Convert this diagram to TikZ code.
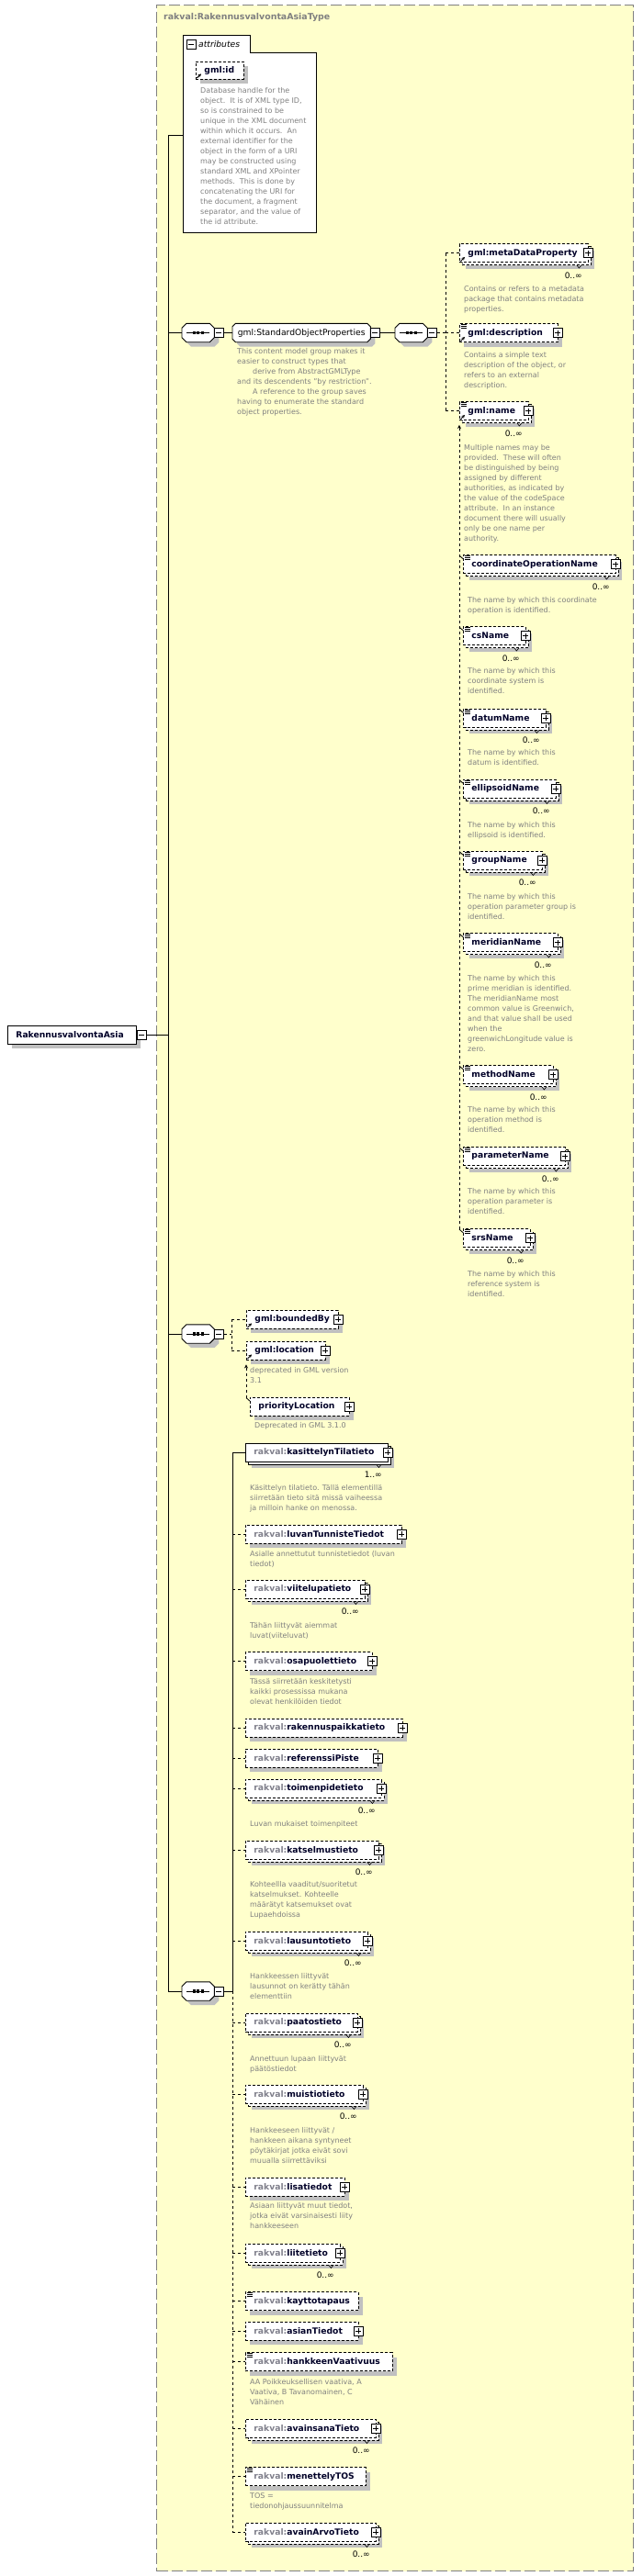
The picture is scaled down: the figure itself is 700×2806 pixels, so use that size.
\documentclass[tikz,border=0pt]{standalone}
\usepackage{fontspec}
\setmainfont{DejaVu Sans}
\usetikzlibrary{shadows,arrows.meta}
\definecolor{bgyel}{RGB}{255,255,204}
\definecolor{bordgray}{RGB}{128,128,128}
\definecolor{shadgray}{RGB}{192,192,192}
\definecolor{dtxt}{RGB}{128,128,128}
\definecolor{ntxt}{RGB}{0,0,40}
\definecolor{pfx}{RGB}{128,128,140}
\newcommand{\elfont}{\fontsize{9.2}{11}\selectfont\bfseries}
\newcommand{\dfont}{\fontsize{8}{11}\selectfont}
\newcommand{\rk}[1]{\textcolor{pfx}{rakval:}#1}
\newcommand{\xEL}[6]{\node[elbox,#5,text width=#3pt] (#1) at (#2,#4) {\hspace*{9pt}\mbox{#6}};}
\newcommand{\xPL}[1]{\node[pbox] (#1P) at ([xshift=-1pt]#1.east) {};}
\newcommand{\xRF}[1]{\draw[line width=1pt,-{Stealth[length=3.5pt,width=3.5pt]}] ([xshift=1.5pt,yshift=1.5pt]#1.south west) -- ++(4.5pt,4.5pt);}
\newcommand{\xSM}[1]{\draw[line width=0.6pt] ([xshift=2pt,yshift=-1.5pt]#1.north west) -- ++(6pt,0pt) ([xshift=2pt,yshift=-3.5pt]#1.north west) -- ++(6pt,0pt) ([xshift=2pt,yshift=-5.5pt]#1.north west) -- ++(6pt,0pt);}
\newcommand{\xOC}[2]{\draw[line width=0.6pt] ([xshift=-13pt,yshift=-3pt]#1.south east) -- ++(2.5pt,-3pt) -- ++(2.5pt,3pt); \node[occ] (#1O) at ([xshift=-7pt,yshift=-14pt]#1.south east) {#2};}
\newcommand{\xTK}[1]{\draw[line width=0.8pt] ([xshift=-4pt,yshift=-1pt]#1.north west) -- ([xshift=0.5pt,yshift=-5pt]#1.north west);}
\newcommand{\xDS}[4]{\node[dsc] (#1) at (#2,#3-4) {#4};}
\newcommand{\xOCT}[2]{\draw[line width=0.9pt, fill=white, sshadow] ([xshift=#2]#1.north west) -- ([xshift=-#2]#1.north east) -- ([yshift=-#2]#1.north east) -- ([yshift=#2]#1.south east) -- ([xshift=-#2]#1.south east) -- ([xshift=#2]#1.south west) -- ([yshift=#2]#1.south west) -- ([yshift=-#2]#1.north west) -- cycle;}
\newcommand{\xSQ}[3]{%
 \node[seqnode] (#1) at (#2,#3) {};
 \xOCT{#1}{5pt}
 \draw[line width=0.9pt] ([xshift=5pt]#1.west) -- ([xshift=-5pt]#1.east);
 \foreach \dx in {-4.5,0,4.5} \fill ([xshift=\dx pt]#1.center) +(-1.7pt,-1.7pt) rectangle +(1.7pt,1.7pt);
 \node[mbox] (#1m) at ([xshift=5pt]#1.east) {};}
\tikzset{
 conn/.style={line width=0.9pt, black},
 dconn/.style={conn, dash pattern=on 3pt off 3pt},
 elbox/.style={draw, line width=0.9pt, fill=white, minimum height=20pt, inner xsep=0pt, inner ysep=0pt, anchor=west, font=\elfont, text=ntxt, align=left},
 optb/.style={dash pattern=on 3pt off 2pt},
 sshadow/.style={drop shadow={shadow xshift=5pt, shadow yshift=-5pt, fill=shadgray, opacity=1}},
 multib/.style={drop shadow={shadow xshift=7pt, shadow yshift=-7pt, fill=shadgray, opacity=1}, copy shadow={shadow xshift=3pt, shadow yshift=-3pt, draw=black, fill=white}},
 pbox/.style={draw, solid, fill=white, line width=0.7pt, minimum size=10pt, inner sep=0pt,
   path picture={\draw[line width=0.7pt] ([xshift=2pt]path picture bounding box.west) -- ([xshift=-2pt]path picture bounding box.east) ([yshift=-2pt]path picture bounding box.north) -- ([yshift=2pt]path picture bounding box.south);}},
 mbox/.style={draw, solid, fill=white, line width=0.7pt, minimum size=10pt, inner sep=0pt,
   path picture={\draw[line width=0.7pt] ([xshift=2pt]path picture bounding box.west) -- ([xshift=-2pt]path picture bounding box.east);}},
 seqnode/.style={rectangle, draw=none, minimum width=35pt, minimum height=20pt, inner sep=0pt, anchor=west},
 grpnode/.style={rectangle, draw=none, minimum width=150pt, minimum height=20pt, inner sep=0pt, anchor=west, font=\fontsize{9.2}{11}\selectfont},
 dsc/.style={font=\dfont, text=dtxt, align=left, inner sep=0pt, anchor=north west},
 occ/.style={font=\fontsize{9}{10}\selectfont, text=black, inner sep=0pt, anchor=east},
}
\begin{document}
\begin{tikzpicture}[x=1pt,y=-1pt]
\useasboundingbox (0,0) rectangle (700,2806);
\fill[white] (0,0) rectangle (700,2806);
% type box
\node[draw=bordgray, fill=bgyel, dash pattern=on 12pt off 4pt, line width=1pt, minimum width=519pt, minimum height=2795pt, anchor=north west, inner sep=0pt] (typebox) at (170,5) {};
\node[anchor=west, font=\fontsize{9.4}{11}\selectfont\bfseries, text=bordgray, inner sep=0pt] (title) at (178,19) {rakval:RakennusvalvontaAsiaType};
% attributes
\draw[line width=0.9pt, fill=white] (199,38) -- (272,38) -- (272,57) -- (344,57) -- (344,253) -- (199,253) -- cycle;
\coordinate (attrW) at (199,147);
\node[mbox] (attrm) at (208,48.5) {};
\node[anchor=west, font=\fontsize{9.2}{11}\selectfont\itshape, inner sep=0pt] (attrlbl) at (216,48) {attributes};
\xEL{gmlid}{213}{52}{76.5}{optb,sshadow,minimum height=19pt}{gml:id}\xRF{gmlid}
\xDS{gmlidD}{218}{99}{Database handle for the\\object.\ \ It is of XML type ID,\\so is constrained to be\\unique in the XML document\\within which it occurs.\ \ An\\external identifier for the\\object in the form of a URI\\may be constructed using\\standard XML and XPointer\\methods.\ \ This is done by\\concatenating the URI for\\the document, a fragment\\separator, and the value of\\the id attribute.}
% main element
\xEL{rva}{8}{140}{1127}{sshadow}{RakennusvalvontaAsia}
\node[mbox] (rvam) at ([xshift=5pt]rva.east) {};
\coordinate (rvaJ) at (183,1127);
\draw[conn] (rvam.east) -- (rvaJ);
% main bus
\coordinate (mbT) at (183,147);
\coordinate (jA) at (183,362.5);
\coordinate (jC) at (183,1453);
\coordinate (mbB) at (183,2169);
\draw[conn] (mbT) -- (mbB);
\draw[conn] (mbT) -- (attrW);
% ---------- group 1
\xSQ{seqA}{198}{362.5}
\draw[conn] (jA) -- (seqA.west);
\node[grpnode] (sopbg) at (253,362.5) {};
\xOCT{sopbg}{3.5pt}
\node[grpnode] (sop) at (253,362.5) {gml:StandardObjectProperties};
\node[mbox] (sopm) at ([xshift=5pt]sop.east) {};
\draw[conn] (seqAm.east) -- (sop.west);
\xDS{sopD}{258}{383}{This content model group makes it\\easier to construct types that\\\hspace*{17pt}derive from AbstractGMLType\\and its descendents \char34 by restriction\char34.\\\hspace*{17pt}A reference to the group saves\\having to enumerate the standard\\object properties.}
\xSQ{seqB}{430}{362.5}
\draw[conn] (sopm.east) -- (seqB.west);
\coordinate (busB) at (485,362.5);
\coordinate (busBt) at (485,275.5);
\coordinate (busBb) at (485,447.5);
\draw[dconn] (seqBm.east) -- (busB);
\draw[dconn] (busBt) -- (busBb);
\xEL{mdp}{500}{140}{275.5}{optb,multib}{gml:metaDataProperty}\xRF{mdp}\xPL{mdp}\xOC{mdp}{0..∞}
\xDS{mdpD}{505}{315}{Contains or refers to a metadata\\package that contains metadata\\properties.}
\xEL{descr}{500}{107}{362.5}{optb,sshadow}{gml:description}\xRF{descr}\xSM{descr}\xPL{descr}
\xDS{descrD}{505}{387}{Contains a simple text\\description of the object, or\\refers to an external\\description.}
\xEL{gname}{500}{75}{447.5}{optb,multib}{gml:name}\xRF{gname}\xSM{gname}\xPL{gname}\xOC{gname}{0..∞}
\xDS{gnameD}{505}{488}{Multiple names may be\\provided.\ \ These will often\\be distinguished by being\\assigned by different\\authorities, as indicated by\\the value of the codeSpace\\attribute.\ \ In an instance\\document there will usually\\only be one name per\\authority.}
\draw[dconn] (busBt) -- (mdp.west);
\draw[dconn] (busB) -- (descr.west);
\draw[dconn] (busBb) -- (gname.west);
% substitution members
\xEL{cop}{504}{166}{614.5}{optb,multib}{coordinateOperationName}\xSM{cop}\xPL{cop}\xOC{cop}{0..∞}
\xDS{copD}{509}{654}{The name by which this coordinate\\operation is identified.}
\xEL{csn}{504}{68}{692.5}{optb,multib}{csName}\xSM{csn}\xPL{csn}\xOC{csn}{0..∞}
\xDS{csnD}{509}{731}{The name by which this\\coordinate system is\\identified.}
\xEL{dtn}{504}{90}{782}{optb,multib}{datumName}\xSM{dtn}\xPL{dtn}\xOC{dtn}{0..∞}
\xDS{dtnD}{509}{820}{The name by which this\\datum is identified.}
\xEL{eln}{504}{101}{859}{optb,multib}{ellipsoidName}\xSM{eln}\xPL{eln}\xOC{eln}{0..∞}
\xDS{elnD}{509}{899}{The name by which this\\ellipsoid is identified.}
\xEL{grn}{504}{86}{937}{optb,multib}{groupName}\xSM{grn}\xPL{grn}\xOC{grn}{0..∞}
\xDS{grnD}{509}{977}{The name by which this\\operation parameter group is\\identified.}
\xEL{mrn}{504}{103}{1026.5}{optb,multib}{meridianName}\xSM{mrn}\xPL{mrn}\xOC{mrn}{0..∞}
\xDS{mrnD}{509}{1066}{The name by which this\\prime meridian is identified.\\The meridianName most\\common value is Greenwich,\\and that value shall be used\\when the\\greenwichLongitude value is\\zero.}
\xEL{mtn}{504}{98}{1170.5}{optb,multib}{methodName}\xSM{mtn}\xPL{mtn}\xOC{mtn}{0..∞}
\xDS{mtnD}{509}{1209}{The name by which this\\operation method is\\identified.}
\xEL{prn}{504}{111}{1259.5}{optb,multib}{parameterName}\xSM{prn}\xPL{prn}\xOC{prn}{0..∞}
\xDS{prnD}{509}{1298}{The name by which this\\operation parameter is\\identified.}
\xEL{srs}{504}{73}{1348.5}{optb,multib}{srsName}\xSM{srs}\xPL{srs}\xOC{srs}{0..∞}
\xDS{srsD}{509}{1388}{The name by which this\\reference system is\\identified.}
\draw[dconn,-{Stealth[length=4pt,width=4pt]}] ([xshift=-4pt,yshift=-1pt]srs.north west) -- ([yshift=-5pt]gname.south west);
\xTK{cop}\xTK{csn}\xTK{dtn}\xTK{eln}\xTK{grn}\xTK{mrn}\xTK{mtn}\xTK{prn}\xTK{srs}
% ---------- group 2
\xSQ{seqC}{198}{1453}
\draw[conn] (jC) -- (seqC.west);
\coordinate (busC) at (252,1453);
\coordinate (busCt) at (252,1437);
\coordinate (busCb) at (252,1471);
\draw[dconn] (seqCm.east) -- (busC);
\draw[dconn] (busCt) -- (busCb);
\xEL{bnd}{268}{100}{1437}{optb,sshadow}{gml:boundedBy}\xRF{bnd}\xPL{bnd}
\xEL{loc}{268}{86}{1471}{optb,sshadow}{gml:location}\xRF{loc}\xPL{loc}
\xDS{locD}{272}{1493}{deprecated in GML version\\3.1}
\draw[dconn] (busCt) -- (bnd.west);
\draw[dconn] (busCb) -- (loc.west);
\xEL{prio}{272}{108}{1532}{optb,sshadow}{priorityLocation}\xPL{prio}
\xDS{prioD}{277}{1553}{Deprecated in GML 3.1.0}
\draw[dconn,-{Stealth[length=4pt,width=4pt]}] ([xshift=-4pt,yshift=-1pt]prio.north west) -- ([yshift=-5pt]loc.south west);
\xTK{prio}
% ---------- group 3
\xSQ{seqD}{198}{2169}
\draw[conn] (mbB) -- (seqD.west);
\coordinate (busD) at (253,2169);
\coordinate (busDt) at (253,1582);
\coordinate (busDb) at (253,2758);
\draw[conn] (seqDm.east) -- (busD);
\draw[conn] (busDt) -- (busD);
\draw[dconn] (busD) -- (busDb);
\xEL{kas}{267}{155}{1582}{multib}{\rk{kasittelynTilatieto}}\xPL{kas}\xOC{kas}{1..∞}
\xDS{kasD}{272}{1621}{Käsittelyn tilatieto. Tällä elementillä\\siirretään tieto sitä missä vaiheessa\\ja milloin hanke on menossa.}
\draw[conn] (busDt) -- (kas.west);
\xEL{lvt}{267}{170}{1671}{optb,sshadow}{\rk{luvanTunnisteTiedot}}\xPL{lvt}
\xDS{lvtD}{272}{1693}{Asialle annettutut tunnistetiedot (luvan\\tiedot)}
\xEL{vii}{267}{130}{1731}{optb,multib}{\rk{viitelupatieto}}\xPL{vii}\xOC{vii}{0..∞}
\xDS{viiD}{272}{1771}{Tähän liittyvät aiemmat\\luvat(viiteluvat)}
\xEL{osa}{267}{138}{1809.5}{optb,sshadow}{\rk{osapuolettieto}}\xPL{osa}
\xDS{osaD}{272}{1832}{Tässä siirretään keskitetysti\\kaikki prosessissa mukana\\olevat henkilöiden tiedot}
\xEL{rpk}{267}{171}{1882}{optb,sshadow}{\rk{rakennuspaikkatieto}}\xPL{rpk}
\xEL{ref}{267}{144}{1915}{optb,sshadow}{\rk{referenssiPiste}}\xPL{ref}
\xEL{toi}{267}{148}{1948}{optb,multib}{\rk{toimenpidetieto}}\xPL{toi}\xOC{toi}{0..∞}
\xDS{toiD}{272}{1987}{Luvan mukaiset toimenpiteet}
\xEL{kat}{267}{145}{2015}{optb,multib}{\rk{katselmustieto}}\xPL{kat}\xOC{kat}{0..∞}
\xDS{katD}{272}{2053}{Kohteellla vaaditut/suoritetut\\katselmukset. Kohteelle\\määrätyt katsemukset ovat\\Lupaehdoissa}
\xEL{lau}{267}{133}{2114}{optb,multib}{\rk{lausuntotieto}}\xPL{lau}\xOC{lau}{0..∞}
\xDS{lauD}{272}{2153}{Hankkeessen liittyvät\\lausunnot on kerätty tähän\\elementtiin}
\xEL{paa}{267}{122}{2203}{optb,multib}{\rk{paatostieto}}\xPL{paa}\xOC{paa}{0..∞}
\xDS{paaD}{272}{2243}{Annettuun lupaan liittyvät\\päätöstiedot}
\xEL{mui}{267}{128}{2281}{optb,multib}{\rk{muistiotieto}}\xPL{mui}\xOC{mui}{0..∞}
\xDS{muiD}{272}{2321}{Hankkeeseen liittyvät /\\hankkeen aikana syntyneet\\pöytäkirjat jotka eivät sovi\\muualla siirrettäviksi}
\xEL{lis}{267}{108}{2382}{optb,sshadow}{\rk{lisatiedot}}\xPL{lis}
\xDS{lisD}{272}{2403}{Asiaan liittyvät muut tiedot,\\jotka eivät varsinaisesti liity\\hankkeeseen}
\xEL{lii}{267}{103}{2454}{optb,multib}{\rk{liitetieto}}\xPL{lii}\xOC{lii}{0..∞}
\xEL{kay}{267}{123}{2506.5}{optb,sshadow}{\rk{kayttotapaus}}\xSM{kay}
\xEL{asi}{267}{123}{2539}{optb,sshadow}{\rk{asianTiedot}}\xPL{asi}
\xEL{han}{267}{160}{2572.5}{optb,sshadow}{\rk{hankkeenVaativuus}}\xSM{han}
\xDS{hanD}{272}{2595}{AA Poikkeuksellisen vaativa, A\\Vaativa, B Tavanomainen, C\\Vähäinen}
\xEL{avs}{267}{142}{2645}{optb,multib}{\rk{avainsanaTieto}}\xPL{avs}\xOC{avs}{0..∞}
\xEL{men}{267}{131}{2697.5}{optb,sshadow}{\rk{menettelyTOS}}\xSM{men}
\xDS{menD}{272}{2719}{TOS =\\tiedonohjaussuunnitelma}
\xEL{ava}{267}{142}{2758}{optb,multib}{\rk{avainArvoTieto}}\xPL{ava}\xOC{ava}{0..∞}
\foreach \n in {lvt,vii,osa,rpk,ref,toi,kat,lau,paa,mui,lis,lii,kay,asi,han,avs,men,ava}
  \draw[dconn] (busD |- \n.west) -- (\n.west);
\end{tikzpicture}
\end{document}
